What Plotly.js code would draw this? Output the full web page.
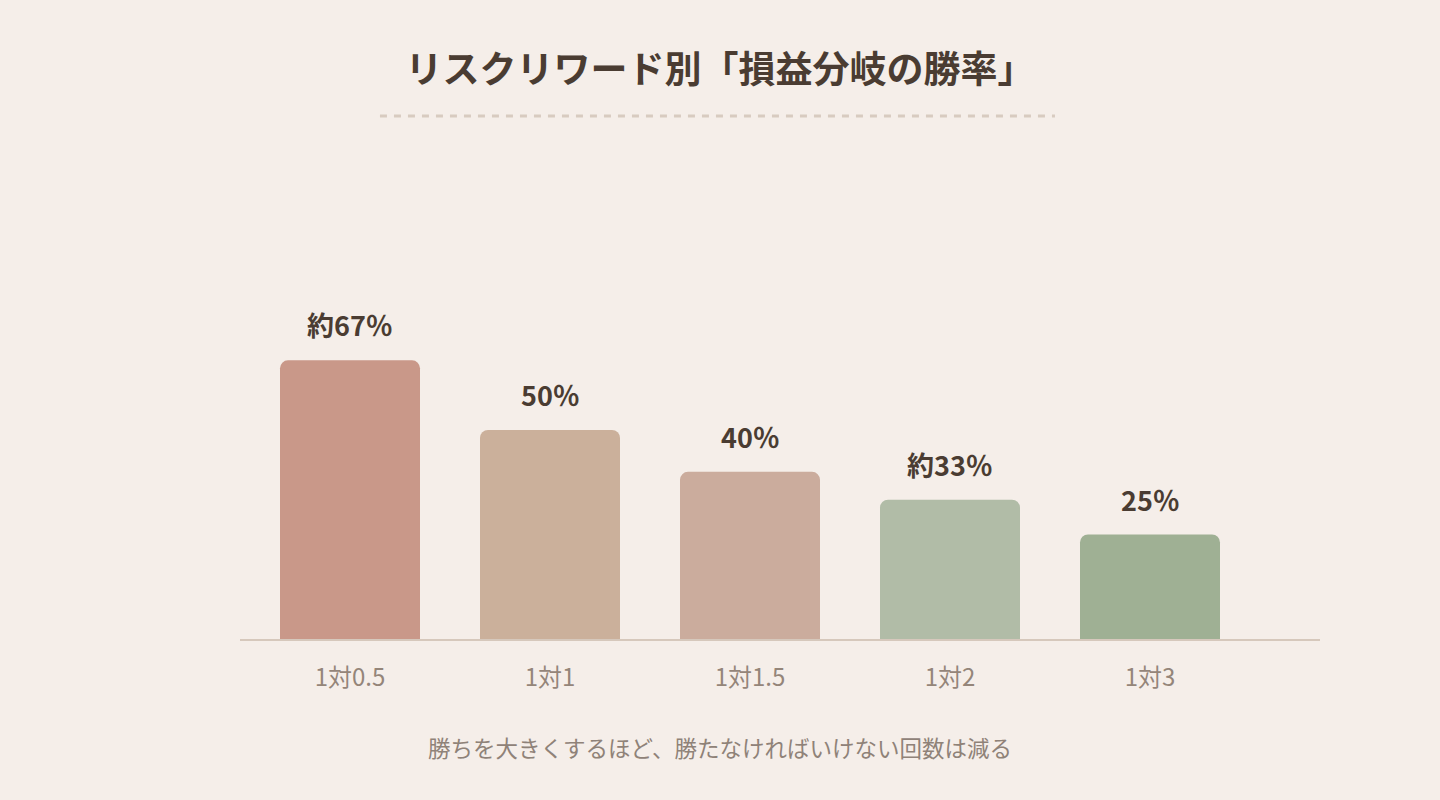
<!DOCTYPE html>
<html>
<head>
<meta charset="utf-8">
<script src="https://cdn.plot.ly/plotly-3.0.1.min.js"></script>
<style>
  html, body { margin: 0; padding: 0; background: #f5eee9; }
  #chart { width: 1440px; height: 800px; }
</style>
</head>
<body>
<div id="chart"></div>
<script>
const categories = ['1対0.5', '1対1', '1対1.5', '1対2', '1対3'];
const winRates = [66.67, 50, 40, 33.33, 25];
const rateLabels = ['約67％', '50％', '40％', '約33％', '25％'];
const barColors = ['#c99889', '#cbb09b', '#cbac9d', '#b1bca7', '#9fb094'];

const fontFamily = '"Noto Sans CJK JP", "Noto Sans", sans-serif';

const valueNotes = categories.map((cat, i) => ({
    x: cat, y: winRates[i], xref: 'x', yref: 'y',
    text: '<b>' + rateLabels[i] + '</b>',
    showarrow: false, yanchor: 'bottom', yshift: 14,
    font: {family: fontFamily, size: 27, color: '#4a3c32'}
}));

const layout = {
    width: 1440, height: 800,
    paper_bgcolor: '#f5eee9', plot_bgcolor: '#f5eee9',
    margin: {l: 240, r: 120, t: 221, b: 161},
    showlegend: false,
    bargap: 0.3,
    barcornerradius: 8,
    title: {
        text: '<b>リスクリワード別「損益分岐の勝率」</b>',
        x: 0.5, xanchor: 'center', y: 0.9125, yanchor: 'middle',
        font: {family: fontFamily, size: 37, color: '#4a3c32'}
    },
    xaxis: {
        type: 'category', range: [-0.55, 4.85],
        showline: true, linecolor: '#d6c8bc', linewidth: 2,
        showgrid: false, zeroline: false, ticks: '',
        ticklabelstandoff: 16,
        tickfont: {family: fontFamily, size: 24, color: '#948579'},
        fixedrange: true
    },
    yaxis: {
        range: [0, 100], visible: false, showgrid: false, zeroline: false,
        fixedrange: true
    },
    shapes: [{
        type: 'line', xref: 'paper', yref: 'paper',
        x0: 0.1296, x1: 0.7546, y0: 1.251, y1: 1.251,
        line: {color: '#d8cbc0', width: 3, dash: '7px,7px'}
    }],
    annotations: valueNotes.concat([{
        xref: 'paper', yref: 'paper', x: 0.4444, y: -0.258,
        xanchor: 'center', yanchor: 'middle', showarrow: false,
        text: '勝ちを大きくするほど、勝たなければいけない回数は減る',
        font: {family: fontFamily, size: 22.5, color: '#8f8278'}
    }])
};

Plotly.newPlot('chart', [{
    type: 'bar', x: categories, y: winRates,
    marker: {color: barColors, line: {width: 0}},
    hoverinfo: 'skip'
}], layout, {displayModeBar: false, staticPlot: true});
</script>
</body>
</html>
